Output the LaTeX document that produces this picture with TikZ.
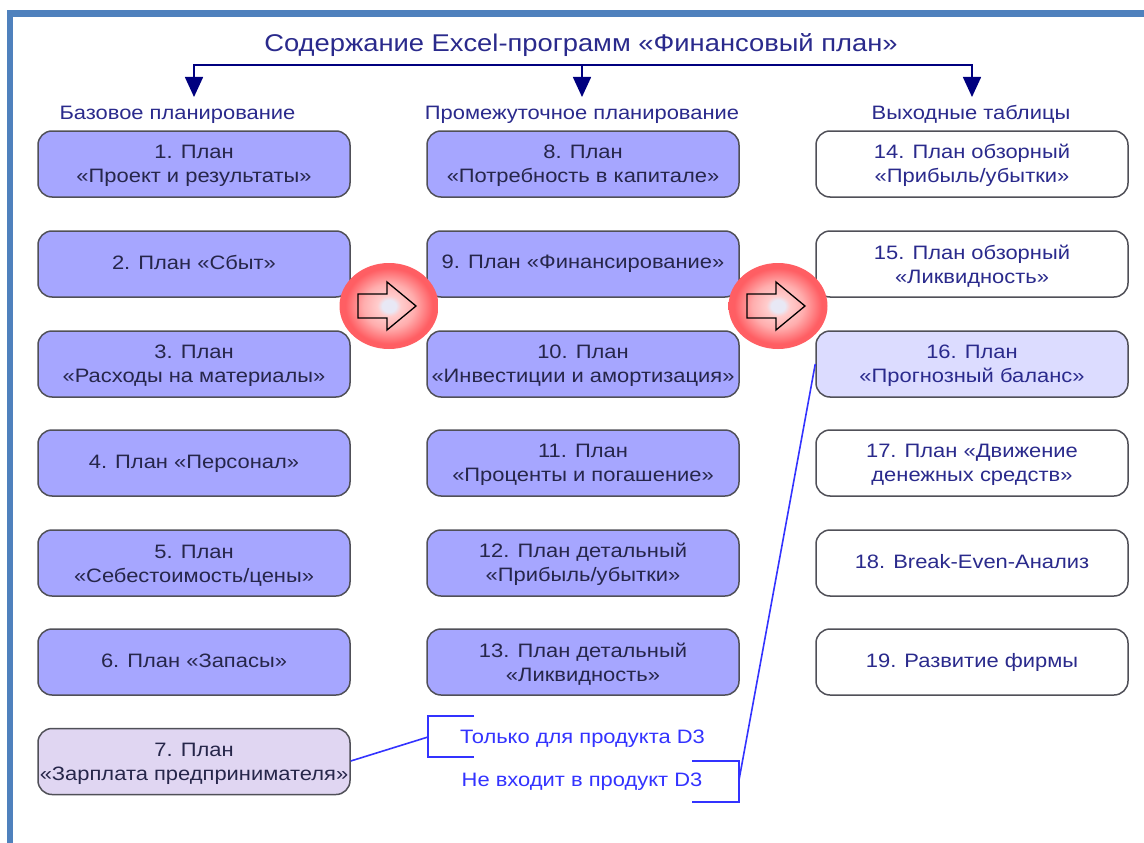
\documentclass[tikz,border=0pt]{standalone}
\usepackage{fontspec}
\setmainfont[FakeStretch=1.13]{Liberation Sans}
\usetikzlibrary{arrows.meta}
\definecolor{frameblue}{HTML}{4F81BD}
\definecolor{navy}{HTML}{00007F}
\definecolor{headtxt}{HTML}{2A2A8C}
\definecolor{boxfill}{HTML}{A6A6FF}
\definecolor{boxtxt}{HTML}{26264A}
\definecolor{lightfill}{HTML}{DCDCFF}
\definecolor{lilac}{HTML}{E0D6F2}
\definecolor{edgegray}{HTML}{505058}
\definecolor{noteblue}{HTML}{3333FF}
\pgfdeclareradialshading{discshade}{\pgfpointorigin}{
  rgb(0bp)=(.91,.91,.96);
  rgb(3.5bp)=(.91,.91,.96);
  rgb(6bp)=(1,.80,.80);
  rgb(13bp)=(1,.68,.68);
  rgb(22bp)=(1,.37,.39);
  rgb(50bp)=(1,.37,.39)}
\newcommand{\tw}[2]{\rule{0pt}{18pt}#1\\#2}
\tikzset{
  x=1pt,y=-1pt,
  planbox/.style={draw=edgegray,line width=1.5pt,rounded corners=14pt,minimum width=312pt,minimum height=66pt,inner sep=0pt,align=center,font=\fontsize{19.4}{24}\selectfont,text=boxtxt},
  liftup/.style={execute at begin node={\rule[-#1]{0pt}{1pt}}},
  dropdown/.style={execute at begin node={\rule{0pt}{#1}}},
  basebox/.style={planbox,fill=boxfill},
  outbox/.style={planbox,fill=white,text=headtxt},
  headtext/.style={font=\fontsize{19.4}{22}\selectfont,text=headtxt,inner sep=0pt},
  notetext/.style={font=\fontsize{19.4}{22}\selectfont,text=noteblue,inner sep=0pt},
  feed/.style={draw=navy,line width=1.6pt,-{Triangle[length=20pt,width=18pt]}},
  noteline/.style={draw=noteblue,line width=1.6pt},
  blockarrow/.style={draw=black,line width=1.3pt,line join=miter}
}
\newcommand{\disc}[2]{%
  \shade[shading=discshade] (#1,#2) ellipse[x radius=49.5pt,y radius=43pt];
  \draw[blockarrow] (#1-31,#2-12)--(#1-2,#2-12)--(#1-2,#2-24)--(#1+27,#2)--(#1-2,#2+24)--(#1-2,#2+12)--(#1-31,#2+12)--cycle;
}
\begin{document}
\begin{tikzpicture}
\useasboundingbox (0,0) rectangle (1144,843);
\fill[white] (0,0) rectangle (1144,843);
\fill[frameblue] (7,10) rectangle (1144,17);
\fill[frameblue] (7,10) rectangle (13,843);

\node[font=\fontsize{24.2}{28}\selectfont,text=headtxt,inner sep=0pt] (title) at (581,45.500) {Содержание Excel-программ «Финансовый план»};
\coordinate (spine) at (582,65);
\node[headtext] (h1) at (177.500,114.500) {Базовое планирование};
\node[headtext] (h2) at (582,114.500) {Промежуточное планирование};
\node[headtext] (h3) at (971,114.500) {Выходные таблицы};
\coordinate (t1) at (194,97);
\coordinate (t2) at (582,97);
\coordinate (t3) at (972,97);
\draw[feed] (spine) -| (t1);
\draw[feed] (spine) -| (t3);
\draw[feed] (spine) -- (t2);

\node[basebox] (p1) at (194,164) {\tw{1. План}{«Проект и результаты»}};
\node[basebox,liftup=4pt] (p2) at (194,264) {2. План «Сбыт»};
\node[basebox] (p3) at (194,364) {\tw{3. План}{«Расходы на материалы»}};
\node[basebox,dropdown=15pt] (p4) at (194,463) {4. План «Персонал»};
\node[basebox] (p5) at (194,563) {\tw{5. План}{«Себестоимость/цены»}};
\node[basebox,liftup=2pt] (p6) at (194,662) {6. План «Запасы»};
\node[basebox,fill=lilac] (p7) at (194,761.500) {\tw{7. План}{«Зарплата предпринимателя»}};

\node[basebox] (p8) at (583,164) {\tw{8. План}{«Потребность в капитале»}};
\node[basebox] (p9) at (583,264) {9. План «Финансирование»};
\node[basebox] (p10) at (583,364) {\tw{10. План}{«Инвестиции и амортизация»}};
\node[basebox] (p11) at (583,463) {\tw{11. План}{«Проценты и погашение»}};
\node[basebox] (p12) at (583,563) {\tw{12. План детальный}{«Прибыль/убытки»}};
\node[basebox] (p13) at (583,662) {\tw{13. План детальный}{«Ликвидность»}};

\node[outbox] (p14) at (972,164) {\tw{14. План обзорный}{«Прибыль/убытки»}};
\node[outbox] (p15) at (972,264) {\tw{15. План обзорный}{«Ликвидность»}};
\node[outbox,fill=lightfill] (p16) at (972,364) {\tw{16. План}{«Прогнозный баланс»}};
\node[outbox] (p17) at (972,463) {\tw{17. План «Движение}{денежных средств»}};
\node[outbox,liftup=4pt] (p18) at (972,563) {18. Break-Even-Анализ};
\node[outbox] (p19) at (972,662) {19. Развитие фирмы};

\disc{389}{306}
\disc{778}{306}

\node[notetext] (n1) at (582.500,738.500) {Только для продукта D3};
\node[notetext] (n2) at (582,782) {Не входит в продукт D3};
\coordinate (b1) at (428,737);
\coordinate (b2) at (739,780);
\draw[noteline] (474,716) -- (428,716) -- (428,757) -- (474,757);
\draw[noteline] (692,761) -- (739,761) -- (739,802) -- (692,802);
\draw[noteline] (p7.east |- 0,761) -- (b1);
\draw[noteline] (b2) -- (p16.west |- 0,364);
\end{tikzpicture}
\end{document}
